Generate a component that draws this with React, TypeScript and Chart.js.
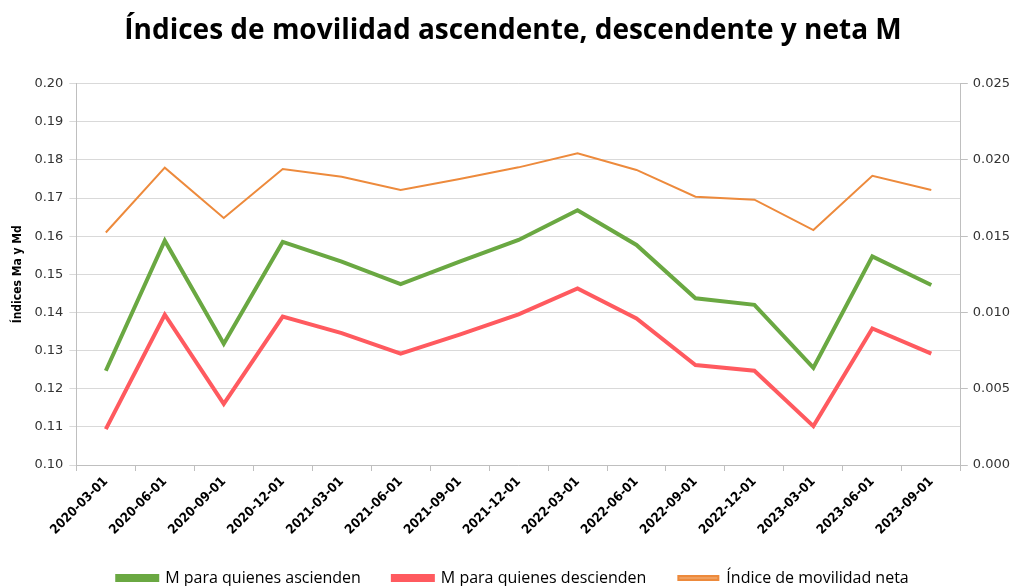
import React, { useEffect, useRef } from "react";
import { Chart, registerables } from "chart.js";

Chart.register(...registerables);

const categories = [
  "2020-03-01", "2020-06-01", "2020-09-01", "2020-12-01", "2021-03-01",
  "2021-06-01", "2021-09-01", "2021-12-01", "2022-03-01", "2022-06-01",
  "2022-09-01", "2022-12-01", "2023-03-01", "2023-06-01", "2023-09-01",
];

const ascienden = [
  0.1247, 0.1588, 0.1318, 0.1585, 0.1533, 0.1474, 0.1533, 0.1590,
  0.1668, 0.1577, 0.1437, 0.1420, 0.1255, 0.1547, 0.1472,
];

const descienden = [
  0.1094, 0.1394, 0.1160, 0.1389, 0.1346, 0.1292, 0.1342, 0.1395,
  0.1463, 0.1384, 0.1262, 0.1247, 0.1102, 0.1358, 0.1292,
];

const neta = [
  0.01524, 0.01949, 0.01619, 0.01940, 0.01889, 0.01802, 0.01875, 0.01951,
  0.02043, 0.01934, 0.01759, 0.01739, 0.01540, 0.01896, 0.01802,
];

const seriesNames = [
  "M para quienes ascienden",
  "M para quienes descienden",
  "Índice de movilidad neta",
];

export default function App() {
  const ref = useRef<HTMLCanvasElement | null>(null);

  useEffect(() => {
    document.body.style.margin = "0";
    document.documentElement.style.overflow = "hidden";
    const canvas = ref.current;
    if (!canvas) return;
    const gridColor = "#d9d9d9";
    const axisColor = "#bfbfbf";
    const chart = new Chart(canvas, {
      type: "line",
      data: {
        labels: categories,
        datasets: [
          {
            label: seriesNames[0],
            data: ascienden,
            borderColor: "#6aa842",
            backgroundColor: "#6aa842",
            borderWidth: 4,
            pointRadius: 0,
            yAxisID: "y",
            tension: 0,
          },
          {
            label: seriesNames[1],
            data: descienden,
            borderColor: "#ff5a5f",
            backgroundColor: "#ff5a5f",
            borderWidth: 4,
            pointRadius: 0,
            yAxisID: "y",
            tension: 0,
          },
          {
            label: seriesNames[2],
            data: neta,
            borderColor: "#ed8a3c",
            backgroundColor: "#f0a060",
            borderWidth: 2,
            pointRadius: 0,
            yAxisID: "y1",
            tension: 0,
          },
        ],
      },
      options: {
        responsive: false,
        animation: false,
        layout: { padding: { left: 11, right: 0, top: 0, bottom: 4 } },
        plugins: {
          title: {
            display: true,
            text: "Índices de movilidad ascendente, descendente y neta M",
            color: "#000000",
            font: { family: "'Open Sans'", size: 28, weight: "bold" },
            padding: { top: 14, bottom: 36 },
          },
          legend: {
            position: "bottom",
            labels: {
              boxWidth: 40,
              boxHeight: 4,
              color: "#000000",
              padding: 32,
              font: { family: "'Open Sans'", size: 16 },
            },
          },
          tooltip: { enabled: false },
        },
        scales: {
          x: {
            offset: true,
            grid: {
              display: true,
              offset: true,
              drawOnChartArea: false,
              drawTicks: true,
              tickLength: 6,
              color: axisColor,
            },
            border: { color: axisColor },
            ticks: {
              maxRotation: 45,
              minRotation: 45,
              autoSkip: false,
              color: "#000000",
              font: { family: "'DejaVu Sans Condensed', 'DejaVu Sans'", size: 13, weight: "bold" },
            },
            afterFit: (scale: any) => {
              scale.height = 73;
            },
          },
          y: {
            position: "left",
            min: 0.1,
            max: 0.2,
            grid: { color: gridColor, tickLength: 7, drawTicks: true },
            border: { color: axisColor },
            ticks: {
              stepSize: 0.01,
              color: "#333333",
              padding: 6,
              font: { family: "'DejaVu Sans'", size: 13 },
              callback: (v: any) => Number(v).toFixed(2),
            },
            title: {
              display: true,
              text: "Índices Ma y Md",
              color: "#000000",
              font: { family: "'DejaVu Sans Condensed', 'DejaVu Sans'", size: 12, weight: "bold" },
              padding: { top: 0, bottom: 3 },
            },
          },
          y1: {
            position: "right",
            min: 0,
            max: 0.025,
            grid: { drawOnChartArea: false, tickLength: 7, color: axisColor },
            border: { color: axisColor },
            ticks: {
              stepSize: 0.005,
              color: "#333333",
              padding: 5,
              font: { family: "'DejaVu Sans'", size: 13 },
              callback: (v: any) => Number(v).toFixed(3),
            },
          },
        },
      },
    });
    return () => chart.destroy();
  }, []);

  return (
    <div style={{ width: 1015, height: 586, overflow: "hidden", background: "#ffffff" }}>
      <canvas ref={ref} width={1015} height={600} />
    </div>
  );
}
